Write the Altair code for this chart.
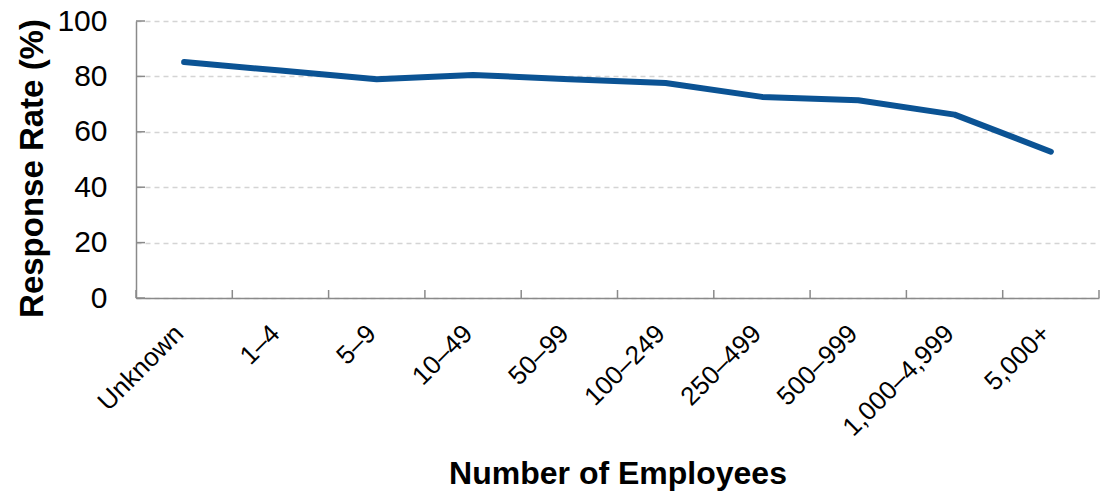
import altair as alt
import pandas as pd

# Response rate by firm size
categories = ["Unknown", "1–4", "5–9", "10–49", "50–99", "100–249",
              "250–499", "500–999", "1,000–4,999", "5,000+"]
response_rates = [85.2, 82.1, 79.0, 80.5, 79.0, 77.6, 72.6, 71.4, 66.2, 52.8]
y_ticks = [0, 20, 40, 60, 80, 100]

FONT = "Liberation Sans"
LINE_BLUE = "#0b5394"
AXIS_GRAY = "#8a8a8a"
W, H = 963, 277

df = pd.DataFrame({"size": categories, "rate": response_rates})
edges = pd.DataFrame({"size": categories})
last_edge = pd.DataFrame({"size": categories[-1:]})
yt = pd.DataFrame({"rate": y_ticks})

x_scale = alt.Scale(type="band", domain=categories, paddingInner=0, paddingOuter=0)
y_scale = alt.Scale(domain=[0, 100], nice=False)

line = alt.Chart(df).mark_line(
    color=LINE_BLUE, strokeWidth=6, strokeCap="round", strokeJoin="round"
).encode(
    x=alt.X("size:N", sort=categories, scale=x_scale,
            axis=alt.Axis(title="Number of Employees", labelAngle=-45,
                          labelAlign="right", labelBaseline="top",
                          labelPadding=22, labelOffset=-14, ticks=False,
                          domainColor=AXIS_GRAY, domainWidth=1.5,
                          labelFont=FONT, labelFontSize=26, labelColor="#000000",
                          titleFont=FONT, titleFontSize=32, titleFontWeight="bold",
                          titleColor="#000000", titleBaseline="alphabetic",
                          titleY=185, grid=False)),
    y=alt.Y("rate:Q", scale=y_scale,
            axis=alt.Axis(title="Response Rate (%)", values=y_ticks, ticks=False,
                          labelPadding=29, domainColor=AXIS_GRAY, domainWidth=1.5,
                          labelFont=FONT, labelFontSize=30, labelColor="#000000",
                          titleFont=FONT, titleFontSize=33, titleFontWeight="bold",
                          titleColor="#000000", titleBaseline="alphabetic",
                          titleAngle=-90, titleX=-94, titleY=147,
                          grid=True, gridColor="#d4d4d4", gridDash=[5, 4],
                          gridWidth=1.5)),
)

# inward tick marks at category boundaries along the x axis
x_ticks = alt.Chart(edges).mark_rule(color=AXIS_GRAY, strokeWidth=1.5).encode(
    x=alt.X("size:N", sort=categories, scale=x_scale, bandPosition=0),
    y=alt.value(H - 8),
    y2=alt.value(H),
)
x_end_tick = alt.Chart(last_edge).mark_rule(color=AXIS_GRAY, strokeWidth=1.5).encode(
    x=alt.X("size:N", sort=categories, scale=x_scale, bandPosition=1),
    y=alt.value(H - 8),
    y2=alt.value(H),
)

# inward tick marks on the y axis
y_tick_marks = alt.Chart(yt).mark_rule(color=AXIS_GRAY, strokeWidth=1.5).encode(
    y=alt.Y("rate:Q", scale=y_scale),
    x=alt.value(0),
    x2=alt.value(9),
)

chart = alt.layer(line, x_ticks, x_end_tick, y_tick_marks).properties(
    width=W,
    height=H,
    autosize=alt.AutoSizeParams(type="none"),
    padding={"left": 136, "top": 21, "right": 6, "bottom": 196},
    background="white",
).configure_view(strokeWidth=0)

chart.save("out.html", embed_options={"renderer": "svg", "actions": False})
